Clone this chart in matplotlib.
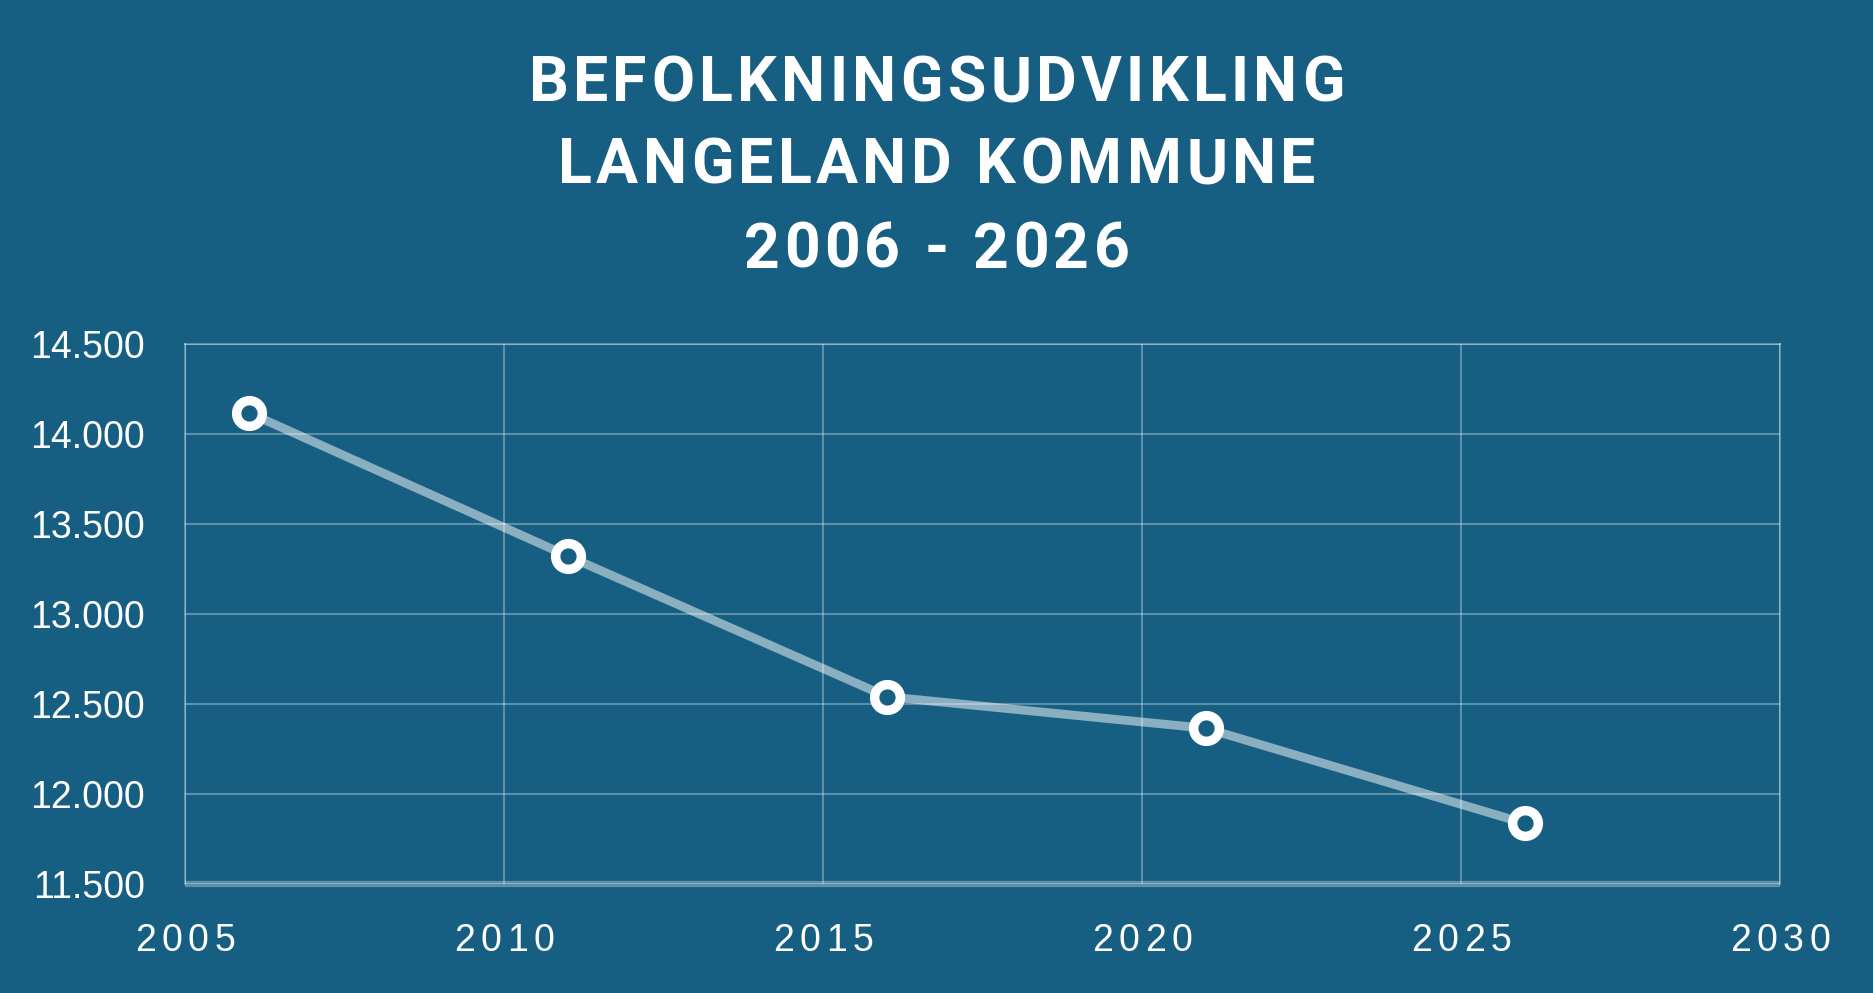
import matplotlib
matplotlib.use("Agg")
import matplotlib.pyplot as plt
from matplotlib.font_manager import FontProperties

# Befolkningsudvikling, Langeland Kommune
years = [2006, 2011, 2016, 2021, 2026]
population = [14118, 13322, 12541, 12365, 11837]

title_lines = ["BEFOLKNINGSUDVIKLING", "LANGELAND KOMMUNE", "2006 - 2026"]
x_ticks = [2005, 2010, 2015, 2020, 2025, 2030]
y_ticks = [11500, 12000, 12500, 13000, 13500, 14000, 14500]

bg = "#165f83"
W, H = 1873, 993

fig = plt.figure(figsize=(W / 100, H / 100), dpi=100, facecolor=bg)
ax = fig.add_axes([185 / W, 1 - 884 / H, (1780 - 185) / W, (884 - 344) / H])
ax.set_facecolor(bg)

ax.plot(years, population, color="white", alpha=0.5, lw=6.3,
        solid_capstyle="butt", zorder=3)
ax.plot(years, population, ls="none", marker="o", ms=18.5, mew=6.8,
        mec="white", mfc=bg, zorder=4)

ax.set_xlim(2005, 2030)
ax.set_ylim(11500, 14500)
ax.set_xticks(x_ticks)
ax.set_yticks(y_ticks)
ax.grid(True, color="white", alpha=0.3, lw=1.5, zorder=1)
ax.tick_params(length=0)
ax.tick_params(axis="y", pad=29, labelsize=27, labelcolor="white")
ax.set_yticklabels([f"{v:,}".replace(",", ".") for v in y_ticks],
                   family=["Liberation Sans", "DejaVu Sans"])
ax.set_xticklabels([])
for side in ["left", "top", "right"]:
    ax.spines[side].set_color((1, 1, 1, 0.3))
    ax.spines[side].set_linewidth(1.5)
ax.spines["bottom"].set_color((1, 1, 1, 0.3))
ax.spines["bottom"].set_linewidth(4.5)
ax.spines["bottom"].set_capstyle("butt")

renderer = fig.canvas.get_renderer()


def spaced_text(cx, y, s, prop, spacing):
    # matplotlib has no letter-spacing, so place each glyph by hand (pixels)
    def w(t):
        return renderer.get_text_width_height_descent(t, prop, ismath=False)[0]
    total = w(s) + spacing * (len(s) - 1)
    x0 = cx - total / 2
    for i, ch in enumerate(s):
        if ch == " ":
            continue
        left = x0 + w(s[:i + 1]) - w(ch) + i * spacing
        fig.text(left, y, ch, transform=None, fontproperties=prop,
                 ha="left", va="baseline", color="white")


title_prop = FontProperties(family=["Roboto", "DejaVu Sans"],
                            weight="bold", size=45)
for line, base in zip(title_lines, [101, 183, 268]):
    spaced_text(W / 2, H - base, line, title_prop, 4.4)

tick_prop = FontProperties(family=["Liberation Sans", "DejaVu Sans"], size=27)
for xv in x_ticks:
    px = ax.transData.transform((xv, 11500))[0]
    spaced_text(px, H - 951, str(xv), tick_prop, 5.5)

fig.savefig("out.png", dpi=100, facecolor=bg)
